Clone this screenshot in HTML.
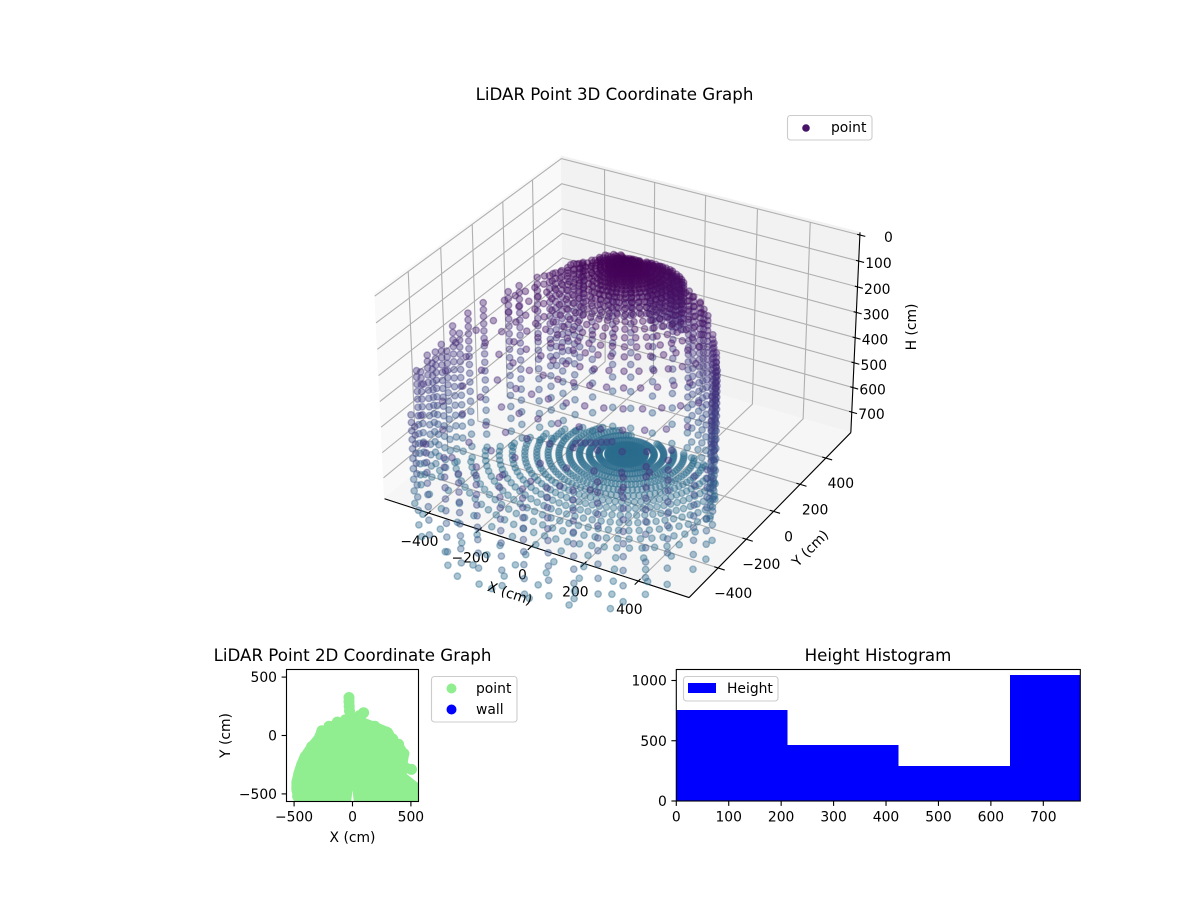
<!DOCTYPE html>
<html lang="en">
<head>
<meta charset="utf-8">
<title>LiDAR Point Graphs</title>
<style>
html,body{margin:0;padding:0;background:#fff;}
svg{display:block;}
text{font-family:"DejaVu Sans","Liberation Sans",sans-serif;fill:#000;font-size:13.89px;}
.ttl{font-size:16.67px;}
</style>
</head>
<body>
<svg id="fig" xmlns="http://www.w3.org/2000/svg" width="1200" height="900" viewBox="0 0 1200 900">
  <defs>
    <clipPath id="clip2d"><rect x="286.5" y="669.5" width="132" height="132"/></clipPath>
    <clipPath id="cliphist"><rect x="676.3" y="669.5" width="404" height="132"/></clipPath>
  </defs>
  <g id="plot3d"></g>
  <text class="ttl" x="614.5" y="100" text-anchor="middle">LiDAR Point 3D Coordinate Graph</text>
  <g>
    <rect x="787.5" y="115.5" width="84.5" height="24.5" rx="3" fill="#fff" fill-opacity="0.8" stroke="#ccc" stroke-width="1.1"/>
    <circle cx="806" cy="128" r="3.8" fill="#47146a"/>
    <text x="831" y="132">point</text>
  </g>
  <text x="510" y="598" text-anchor="middle" transform="rotate(18.5 510 593)">X (cm)</text>
  <text x="810" y="553" text-anchor="middle" transform="rotate(-45 810 548)">Y (cm)</text>
  <text x="916" y="327" text-anchor="middle" transform="rotate(-90 916 327)">H (cm)</text>

  <g id="plot2d"></g>
  <text class="ttl" x="352.5" y="661" text-anchor="middle">LiDAR Point 2D Coordinate Graph</text>
  <text x="352.5" y="842" text-anchor="middle">X (cm)</text>
  <text x="230" y="735.5" text-anchor="middle" transform="rotate(-90 230 735.5)">Y (cm)</text>
  <g>
    <rect x="431.5" y="676.5" width="85.5" height="45.5" rx="3" fill="#fff" fill-opacity="0.8" stroke="#ccc" stroke-width="1.1"/>
    <circle cx="451.5" cy="688.5" r="5" fill="#90ee90"/>
    <text x="476" y="693">point</text>
    <circle cx="451.5" cy="709.5" r="5" fill="#0000ff"/>
    <text x="476" y="714">wall</text>
  </g>

  <g id="plothist"></g>
  <text class="ttl" x="878" y="661" text-anchor="middle">Height Histogram</text>
  <g>
    <rect x="683.5" y="676.5" width="94.5" height="24.5" rx="3" fill="#fff" fill-opacity="0.8" stroke="#ccc" stroke-width="1.1"/>
    <rect x="688" y="683" width="28" height="10" fill="#0000ff"/>
    <text x="727" y="693">Height</text>
  </g>
</svg>

<script>
/* ---------- 3D chart data ---------- */
const xTicks3d = [-400, -200, 0, 200, 400];
const yTicks3d = [-400, -200, 0, 200, 400];
const hTicks3d = [0, 100, 200, 300, 400, 500, 600, 700];

/* scanner position on the floor / ceiling */
const scanCenterX = -5;
const scanCenterY = 50;
const floorHeight = 770;

/* floor rings and how many rings each azimuth reaches */
const floorRingRadii = [10,20,30,40,52,64,95,128,162,197,233,270,309,350,393,438,486,537,592,652,720,790,865,947];
const floorSpokeAz = [0,-8,-16,-24,-32,-40,-48,-56,-64,-72,-80,-88,-96,-104,-112,-120,-128,-136,-144,-152,-160,-168,-176,176,168,160,152,144,136,128,120,112,104,96,88,80,72,64,56,48,40,32,24,16,8,-4,-12,-20,-28,-36,-44,-52,-60,-68,-76,-84,-92,-100,-108,-116,-124,-132,-140,-148,-156,-164,-172,180,172,164,156,148,140,132,124,116,108,100,92,84,76,68,60,52,44,36,28,20,12,4];
const floorSpokeRings = [13,14,15,16,17,18,20,22,24,24,24,24,24,23,23,22,21,20,19,17,15,14,13,12,11,11,10,10,9,9,8,8,7,7,7,7,7,8,8,8,9,10,11,12,12,14,15,16,17,18,19,19,19,19,19,19,19,19,19,19,19,19,19,17,16,14,13,12,12,11,10,10,9,9,8,8,7,7,7,7,7,7,8,8,8,9,10,11,12,12];

/* ceiling dome rings: radius and height of each ring */
const ceilingRingRadii = [8,16,26,36,48,60,74,88,104,120,138,156,176,198,222,248,276,306,338,372,408,460,520,590,665,745,830,915];
const ceilingRingHeights = [22,23,24,25,26,28,30,33,36,40,44,49,55,62,70,79,90,102,116,131,148,172,200,237,272,303,328,345];
const ceilingSpokeAz = [12,24,36,48,60,72,84,96,108,120,132,144,156,168,180,-170,-158,-146,-134,-124,-114,-106,-98,-92,-86,-80,-74,-68,-62,-56,-50,-44,-38,-32,-26,-20,-14,-8,0];
const ceilingSpokeRings = [13,11,9,8,5,5,5,5,5,5,8,9,10,10,10,14,17,21,24,26,27,28,28,28,28,28,28,28,28,27,26,25,24,22,21,20,19,18,17];

/* dense back-wall streaks under the top of the dome: [x, y, heights] */
const domeColumns = [
  [-195,90,[85,96,107,118,130,143,157,172,188,205,222,240,262,286]],
  [-145,118,[72,81,92,103,115,128,142,157,173,190,208,226,246,268,292]],
  [-120,130,[72,82,93,104,116,129,143,158,174,191,209,228,248,270,296]],
  [-95,142,[68,78,88,99,110,122,135,149,164,180,197,215,234,255,278]],
  [-70,150,[66,72,82,92,103,115,127,140,154,169,185,202,220,240,262,288]],
  [-45,158,[66,70,79,89,99,110,122,134,147,161,176,192,209,228,248,272]],
  [-20,165,[66,68,77,86,96,107,118,130,143,157,172,188,205,224,245,268]],
  [5,170,[66,75,84,94,104,115,127,140,153,168,184,201,220,241,265]],
  [20,168,[66,74,83,93,103,114,126,139,152,167,183,200,219,240,262,286]],
  [40,170,[66,74,83,92,102,113,125,138,152,167,183,200,219,240,263,288]],
  [55,170,[68,70,79,88,98,108,119,131,144,158,173,189,206,225,246,270]],
  [65,170,[68,72,81,90,100,110,121,133,146,160,175,191,208,227,248,272,298]],
  [80,168,[68,75,84,93,103,114,125,137,150,164,179,196,214,234,256]],
  [95,167,[70,79,88,97,107,118,129,141,154,168,183,200,218,238,260,285]],
  [105,166,[72,80,89,98,108,119,130,142,155,169,184,201,219,239,261,286]],
  [122,163,[78,87,96,106,117,128,140,153,167,182,198,216,236,258,282]],
  [135,160,[82,90,100,111,122,134,147,161,176,192,209,227,247,270]],
  [145,156,[88,98,108,119,131,143,156,170,185,201,218,237,258,282]],
  [155,152,[95,106,117,129,141,154,168,183,199,216,234,254,276]],
  [-265,25,[115,136,158,180,203,227,252,278,306,336,368,402,438,478]],
  [-235,55,[100,121,143,165,188,212,237,263,291,321,353,387,424,465]],
  [-205,80,[88,108,129,151,174,198,223,250,278,308,340,375,413,455]]
];

/* wall columns: [x, y, heights top-to-floor] */
const wallColumns = [
  [-505,-480,[320,345,372,400,430,462,495,530,566,604,644,686,730,770]],
  [-508,-450,[340,364,390,417,446,476,508,542,578,616,656,700,745]],
  [-500,-420,[288,312,338,365,394,424,456,489,524,560,598,638,680,725,770]],
  [-498,-395,[330,354,379,406,434,464,495,528,563,600,640,682,728]],
  [-500,-370,[300,326,352,380,410,442,475,510,546,584,624,666,712,770]],
  [-495,-340,[284,310,336,364,393,424,456,490,526,564,604,646,692,740,772]],
  [-490,-315,[320,344,369,396,424,453,484,517,552,589,628,670,716]],
  [-480,-290,[232,258,285,312,341,371,402,435,469,505,543,583,625,670,718,770]],
  [-470,-265,[270,296,323,351,380,411,443,477,513,551,592,636,684,738]],
  [-450,-240,[198,224,250,278,306,336,366,398,432,467,504,543,584,628,675,725,770]],
  [-420,-190,[173,200,226,254,282,311,341,372,405,439,475,513,553,596,642,692,745]],
  [-370,-110,[154,180,206,232,260,288,317,347,378,411,446,482,521,562,606,654,706,765]],
  [-345,-80,[138,164,190,216,243,271,300,330,361,394,428,465,503,544,588,635,686,742]],
  [-310,-20,[124,150,175,201,228,255,283,312,343,375,408,444,482,522,565,611,662,718,770]],
  [-280,10,[123,148,173,199,225,252,280,309,339,371,404,439,476,516,558,604,654,710,770]],
  [-250,40,[109,134,159,185,211,238,266,295,325,357,390,425,463,503,546,593,645,703,768]],
  [-220,70,[88,112,136,161,187,214,241,270,300,332,365,401,439,480,524,572,625,685,752]],
  [-170,105,[77,100,124,148,173,199,226,254,284,316,350,386,424,465,510,560,616,680,755]],
  [-110,140,[82,105,129,153,179,205,233,262,293,326,361,399,440,485,535,592,658,735]],
  [-50,160,[74,97,120,144,169,195,223,252,283,316,351,389,431,477,528,586,654,735]],
  [30,170,[73,96,119,143,168,194,222,251,282,315,350,388,430,476,527,585,653,735]],
  [110,165,[90,113,137,161,187,213,241,271,302,335,371,409,451,497,548,606,672,750]],
  [180,145,[118,136,155,175,195,216,238,261,285,310,336,363,392,423,456,492,531,574,622,675,735]],
  [205,130,[125,143,162,182,202,223,245,268,292,317,344,372,402,434,468,505,545,590,640,696,760]],
  [240,110,[132,150,169,188,208,229,251,274,298,323,349,377,407,439,473,510,551,596,647,705,768]],
  [265,90,[138,156,175,194,214,235,257,280,304,329,356,384,414,446,481,519,561,608,660,720]],
  [290,70,[146,164,183,202,222,243,265,288,312,337,364,392,422,455,490,528,570,618,672,735]],
  [330,30,[188,205,223,241,260,280,301,323,346,370,396,424,454,486,521,560,604,654,712,770]],
  [345,10,[205,223,241,260,280,301,323,346,371,397,425,455,488,524,564,610,662,725]],
  [365,-10,[228,245,263,281,300,320,341,363,386,410,436,464,494,527,564,605,652,706,768]],
  [380,-40,[245,263,282,301,321,342,364,387,412,438,466,497,530,567,608,655,710]],
  [395,-60,[262,281,300,320,341,363,386,410,436,464,494,527,563,604,650,703,765]],
  [415,-110,[280,300,321,343,366,390,416,443,472,504,538,576,618,666,722]],
  [430,-160,[300,325,350,376,404,433,464,497,532,570,611,656,706,765]],
  [470,-240,[340,368,397,428,461,496,533,573,617,665,718]],
  [505,-290,[390,420,452,486,522,561,603,650,703,765]]
];

/* front columns along the far edge of the floor */
const frontColumns = [
  [-440,-620,[400,430,462,496,532,570,610,652,698,748]],
  [-360,-720,[370,402,436,472,510,551,595,642,694,752]],
  [-260,-810,[358,392,428,466,507,551,598,650,708]],
  [-160,-860,[352,388,425,465,508,553,602,655,712,765]],
  [-95,-880,[381,415,450,488,528,571,617,667,722]],
  [-20,-895,[355,390,427,466,507,551,598,650,708,770]],
  [70,-900,[330,368,405,445,487,531,578,628,682,742]],
  [150,-895,[351,385,420,458,498,541,587,636,690,750]],
  [225,-870,[337,372,409,448,489,533,580,630,685,745]],
  [300,-840,[337,373,411,451,493,537,584,634,688,747]],
  [365,-800,[307,345,385,427,470,516,564,615,670,730]],
  [440,-772,[281,318,356,396,438,482,528,577,630,688,750]],
  [470,-680,[281,318,357,398,441,486,534,585,640,700,765]],
  [500,-590,[296,332,369,409,451,495,542,592,646,705,768]],
  [540,-400,[420,452,487,524,564,607,654,706,765]],
  [530,-470,[410,444,480,519,561,606,655,710,768]]
];

/* tight purple strand just beyond the floor centre */
const strandPoints = [
  [110,-495,405],[125,-490,400],[140,-483,400],[155,-476,398],
  [170,-469,398],[185,-460,395],[200,-450,395],[215,-443,392]
];

/* viridis stops used by the height colour map */
const colorStops = ['#440154','#482475','#414487','#355f8d','#2a788e'];
const colorScaleMaxH = 2139;

/* ---------- 2D chart data ---------- */
const xTicks2d = [-500, 0, 500];
const yTicks2d = [-500, 0, 500];
const pointOutlineX = [-500,-523,-523,-503,-480,-451,-394,-323,-309,-237,-166,-51,-60,-66,-23,14,20,49,91,129,114,234,334,391,434,486,469,520,549,506,406,566,566,11,0,-11];
const pointOutlineY = [-566,-469,-397,-311,-240,-169,-83,3,46,89,131,166,246,346,366,331,174,203,231,194,146,103,60,-40,-69,-154,-254,-254,-297,-331,-283,-411,-566,-566,-469,-566];
const pointBlobX = [-470,-476,-476,-456,-434,-405,-350,-280,-262,-200,-130,-60,-30,-30,-28,-26,95,60,190,290,345,395,440,430,505,460,520,520];
const pointBlobY = [-520,-460,-400,-320,-250,-180,-95,-10,40,80,115,135,325,290,250,210,195,170,80,30,-30,-75,-155,-250,-290,-280,-460,-530];

/* ---------- histogram data ---------- */
const histEdges = [0, 212, 424, 636, 848];
const histCounts = [755, 465, 290, 1045];
const histXTicks = [0, 100, 200, 300, 400, 500, 600, 700];
const histYTicks = [0, 500, 1000];

/* ---------- helpers ---------- */
const SVGNS = 'http://www.w3.org/2000/svg';
function mk(tag, parent, attrs) {
  const e = document.createElementNS(SVGNS, tag);
  for (const k in attrs) e.setAttribute(k, attrs[k]);
  parent.appendChild(e);
  return e;
}
function fmt(v) { return v < 0 ? '\u2212' + Math.abs(v) : String(v); }
const TICK = 1.11;

/* ---------- 3D projection (elev 30, azim -60, inverted H) ---------- */
const xLim = [-575, 585], yLim = [-600, 600], hLim = [-10, 784];
const BOX_XY = 0.595, BOX_Z = 0.40, SCALE = 2925, CX = 622, CY = 365.7;
function project(x, y, h) {
  const dx = (x - (xLim[0] + xLim[1]) / 2) / (xLim[1] - xLim[0]) * 2 * BOX_XY;
  const dy = (y - (yLim[0] + yLim[1]) / 2) / (yLim[1] - yLim[0]) * 2 * BOX_XY;
  const dz = ((hLim[0] + hLim[1]) / 2 - h) / (hLim[1] - hLim[0]) * 2 * BOX_Z;
  const u = 0.866 * dx + 0.5 * dy;
  const v = -0.25 * dx + 0.433 * dy + 0.866 * dz;
  const n = 0.433 * dx - 0.75 * dy + 0.5 * dz;
  const d = 10 - n;
  return { x: CX + SCALE * u / d, y: CY - SCALE * v / d, depth: n };
}
function heightColor(h) {
  const t = Math.max(0, Math.min(0.4, h / colorScaleMaxH)) / 0.1;
  const i = Math.min(colorStops.length - 2, Math.floor(t));
  const f = t - i;
  const a = colorStops[i], b = colorStops[i + 1];
  const ch = s => [1, 3, 5].map(p => parseInt(s.substr(p, 2), 16));
  const ca = ch(a), cb = ch(b);
  return 'rgb(' + ca.map((c, j) => Math.round(c + (cb[j] - c) * f)).join(',') + ')';
}

const g3 = document.getElementById('plot3d');
const [xa, xb] = xLim, [ya, yb] = yLim, [ht, hb] = hLim;

function pane(name, corners, fill) {
  const pts = corners.map(c => { const p = project(c[0], c[1], c[2]); return p.x.toFixed(1) + ',' + p.y.toFixed(1); }).join(' ');
  const el = mk('polygon', g3, { points: pts, fill: fill, stroke: fill, 'stroke-width': 1 });
  
  
}
pane('x-pane', [[xa, ya, hb], [xa, yb, hb], [xa, yb, ht], [xa, ya, ht]], '#f9f9f9');
pane('y-pane', [[xa, yb, hb], [xb, yb, hb], [xb, yb, ht], [xa, yb, ht]], '#f2f2f2');
pane('floor-pane', [[xa, ya, hb], [xb, ya, hb], [xb, yb, hb], [xa, yb, hb]], '#f6f6f6');

function poly3(parent, pts, stroke, width) {
  const s = pts.map(c => { const p = project(c[0], c[1], c[2]); return p.x.toFixed(2) + ',' + p.y.toFixed(2); }).join(' ');
  return mk('polyline', parent, { points: s, fill: 'none', stroke: stroke, 'stroke-width': width });
}
const GRID = '#b0b0b0', GW = 1.11, HTOP = -1;
xTicks3d.forEach(v => {
  const l = poly3(g3, [[v, ya, hb], [v, yb, hb], [v, yb, HTOP]], GRID, GW);
  
  
});
yTicks3d.forEach(v => {
  const l = poly3(g3, [[xb, v, hb], [xa, v, hb], [xa, v, HTOP]], GRID, GW);
  
  
});
hTicks3d.forEach(v => {
  const l = poly3(g3, [[xa, ya, v], [xa, yb, v], [xb, yb, v]], GRID, GW);
  
  
});

const axisX = poly3(g3, [[xa, ya, hb], [xb, ya, hb]], '#000', TICK);


const axisY = poly3(g3, [[xb, ya, hb], [xb, yb, hb]], '#000', TICK);


const axisH = poly3(g3, [[xb, yb, hb], [xb, yb, ht]], '#000', TICK);



xTicks3d.forEach(v => {
  const t = poly3(g3, [[v, ya + 14, hb], [v, ya - 24, hb]], '#000', TICK);
  
  
  const p = project(v, ya, hb);
  const lb = mk('text', g3, { x: p.x - 9, y: p.y + 33, 'text-anchor': 'middle' });
  lb.textContent = fmt(v);
  
  
});
yTicks3d.forEach(v => {
  const t = poly3(g3, [[xb - 14, v, hb], [xb + 24, v, hb]], '#000', TICK);
  
  
  const p = project(xb, v, hb);
  const lb = mk('text', g3, { x: p.x + 15, y: p.y + 30, 'text-anchor': 'middle' });
  lb.textContent = fmt(v);
  
  
});
hTicks3d.forEach(v => {
  const t = poly3(g3, [[xb - 10, yb, v], [xb + 20, yb, v]], '#000', TICK);
  
  
  const p = project(xb, yb, v);
  const lb = mk('text', g3, { x: p.x + 33, y: p.y + 7, 'text-anchor': 'end' });
  lb.textContent = fmt(v);
  
  
});

/* assemble point list from the data arrays */
const cloud = [];
function polar(r, azDeg) {
  const a = azDeg * Math.PI / 180;
  return [scanCenterX + r * Math.cos(a), scanCenterY + r * Math.sin(a)];
}
floorSpokeAz.forEach((az, i) => {
  for (let k = 0; k < floorSpokeRings[i]; k++) {
    const p = polar(floorRingRadii[k], az);
    cloud.push([p[0], p[1], floorHeight]);
  }
});
ceilingSpokeAz.forEach((az, i) => {
  for (let k = 0; k < ceilingSpokeRings[i]; k++) {
    const p = polar(ceilingRingRadii[k], az);
    cloud.push([p[0], p[1], ceilingRingHeights[k]]);
  }
});
domeColumns.concat(wallColumns, frontColumns).forEach(c => {
  c[2].forEach(h => cloud.push([c[0], c[1], h]));
});
strandPoints.forEach(p => cloud.push(p));

const projected = cloud.map(p => ({ s: project(p[0], p[1], p[2]), h: p[2] }));
projected.sort((a, b) => a.s.depth - b.s.depth);
const cloudGroup = mk('g', g3, {});


projected.forEach(p => {
  const col = heightColor(p.h);
  const c = mk('circle', cloudGroup, {
    cx: p.s.x.toFixed(1), cy: p.s.y.toFixed(1), r: 3.2,
    fill: col, 'fill-opacity': 0.4, stroke: col, 'stroke-opacity': 0.4, 'stroke-width': 1.39
  });
  
  
});

/* ---------- 2D chart ---------- */
const g2 = document.getElementById('plot2d');
const L2 = 286.5, R2 = 418.5, T2 = 669.5, B2 = 801.5;
const lim2d = [-565, 565];
const sx2 = v => L2 + (v - lim2d[0]) / (lim2d[1] - lim2d[0]) * (R2 - L2);
const sy2 = v => B2 - (v - lim2d[0]) / (lim2d[1] - lim2d[0]) * (B2 - T2);
const areaPts = pointOutlineX.map((x, i) => sx2(x).toFixed(1) + ',' + sy2(pointOutlineY[i]).toFixed(1)).join(' ');
const series2 = mk('g', g2, { 'clip-path': 'url(#clip2d)' });


const area = mk('polygon', series2, { points: areaPts, fill: '#90ee90' });


pointBlobX.forEach((x, i) => {
  const blob = mk('circle', series2, { cx: sx2(x).toFixed(1), cy: sy2(pointBlobY[i]).toFixed(1), r: 5.5, fill: '#90ee90' });
  
  
});
const frame2 = mk('rect', g2, { x: L2, y: T2, width: R2 - L2, height: B2 - T2, fill: 'none', stroke: '#000', 'stroke-width': TICK });


xTicks2d.forEach(v => {
  const x = sx2(v);
  const t = mk('line', g2, { x1: x, x2: x, y1: B2, y2: B2 + 4.9, stroke: '#000', 'stroke-width': TICK });
  
  
  const lb = mk('text', g2, { x: x, y: B2 + 20, 'text-anchor': 'middle' });
  lb.textContent = fmt(v);
  
  
});
yTicks2d.forEach(v => {
  const y = sy2(v);
  const t = mk('line', g2, { x1: L2 - 4.9, x2: L2, y1: y, y2: y, stroke: '#000', 'stroke-width': TICK });
  
  
  const lb = mk('text', g2, { x: L2 - 9.5, y: y + 5, 'text-anchor': 'end' });
  lb.textContent = fmt(v);
  
  
});

/* ---------- histogram ---------- */
const gh = document.getElementById('plothist');
const LH = 676.3, RH = 1080.3, TH = 669.5, BH = 801;
const sxH = v => LH + v * 0.5243;
const syH = v => BH - v * 0.1205;
const barGroup = mk('g', gh, { 'clip-path': 'url(#cliphist)', 'shape-rendering': 'crispEdges' });


histCounts.forEach((c, i) => {
  const x0 = sxH(histEdges[i]), x1 = sxH(histEdges[i + 1]);
  const b = mk('rect', barGroup, { x: x0, y: syH(c), width: x1 - x0, height: BH - syH(c), fill: '#0000ff' });
  
  
});
const frameH = mk('rect', gh, { x: LH, y: TH, width: RH - LH, height: BH - TH, fill: 'none', stroke: '#000', 'stroke-width': TICK });


histXTicks.forEach(v => {
  const x = sxH(v);
  const t = mk('line', gh, { x1: x, x2: x, y1: BH, y2: BH + 4.9, stroke: '#000', 'stroke-width': TICK });
  
  
  const lb = mk('text', gh, { x: x, y: BH + 20.5, 'text-anchor': 'middle' });
  lb.textContent = fmt(v);
  
  
});
histYTicks.forEach(v => {
  const y = syH(v);
  const t = mk('line', gh, { x1: LH - 4.9, x2: LH, y1: y, y2: y, stroke: '#000', 'stroke-width': TICK });
  
  
  const lb = mk('text', gh, { x: LH - 9.5, y: y + 5, 'text-anchor': 'end' });
  lb.textContent = fmt(v);
  
  
});
</script>
</body>
</html>
